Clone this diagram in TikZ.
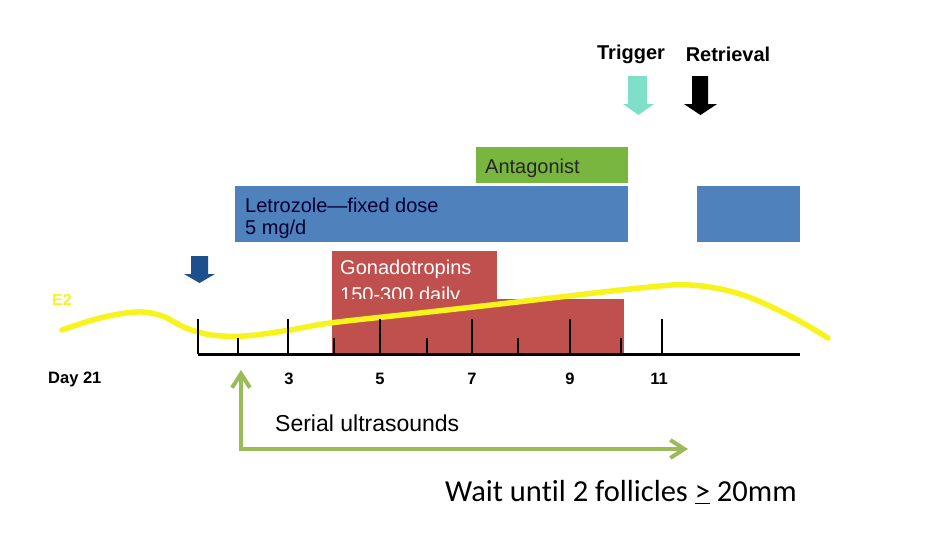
\documentclass[tikz,border=0pt]{standalone}
\usepackage{fontspec}
\setmainfont{Liberation Sans}
\newfontfamily\calibri[Ligatures=NoCommon]{Carlito}
\usetikzlibrary{arrows.meta,positioning}
\definecolor{letblue}{HTML}{4F81BD}
\definecolor{antgreen}{HTML}{78B63F}
\definecolor{gonred}{HTML}{C0504D}
\definecolor{trigteal}{HTML}{7FDFC8}
\definecolor{startblue}{HTML}{1F4E8C}
\definecolor{eyellow}{HTML}{F7F31C}
\definecolor{usgreen}{HTML}{9BBB59}

\begin{document}
\begin{tikzpicture}[x=1pt,y=-1pt,>={Straight Barb[length=14pt,width=18pt,line width=4pt]},
    bar/.style={rectangle,inner sep=0pt,anchor=north west},
    boxtxt/.style={inner sep=0pt,align=left,font=\fontsize{20}{22}\selectfont},
    toplab/.style={inner sep=0pt,font=\fontsize{20}{22}\selectfont\bfseries},
    daylab/.style={inner sep=0pt,font=\fontsize{16.5}{18}\selectfont\bfseries}]
    \useasboundingbox (0,0) rectangle (935,542);
    % drug bars
    \node[bar,fill=antgreen,minimum width=152,minimum height=36] (antag) at (476,147) {};
    \node[boxtxt,anchor=base west,text=black!85] (antagtxt) at (485,173) {Antagonist};
    \node[bar,fill=letblue,minimum width=393,minimum height=56] (letro) at (235,186) {};
    \node[boxtxt,anchor=north west,text=black!80!blue] (letrotxt) at (245,197.5) {Letrozole---fixed dose\\5 mg/d};
    \node[bar,fill=letblue,minimum width=103,minimum height=56] (letro2) at (697,186) {};
    \node[bar,fill=gonred,minimum width=165,minimum height=48] (gonup) at (332,251) {};
    \node[boxtxt,anchor=north west,text=white,font=\fontsize{20}{27}\selectfont] (gontxt) at (340,259.5) {Gonadotropins\\150-300 daily};
    \node[bar,fill=gonred,minimum width=292,minimum height=55] (gonlow) at (332,299) {};
    % trigger / retrieval / start
    \node[toplab] (trig) at (631,54) {Trigger};
    \node[toplab] (retr) at (728,54) {Retrieval};
    \fill[trigteal] (628,76)--(647,76)--(647,104)--(654,104)--(638.5,115)--(623,104)--(628,104)--cycle;
    \fill[black] (692,76)--(708,76)--(708,104)--(717,104)--(700.5,115)--(684,104)--(692,104)--cycle;
    \fill[startblue] (191,256)--(208,256)--(208,274)--(215,274)--(199.5,283)--(184,274)--(191,274)--cycle;
    % E2 curve
    \node[inner sep=0pt,text=eyellow,font=\fontsize{16}{18}\selectfont\bfseries] (e2) at (62,300) {E2};
    \draw[eyellow,line width=5.5pt,line cap=round] plot[smooth,tension=0.6] coordinates
        {(62,330) (100,318) (137,312) (162,316) (186,328) (212,335) (245,336) (290,330) (330,323)
         (420,313) (500,304) (560,297) (640,288) (690,285) (740,294) (790,316) (828,338)};
    % timeline
    \draw[line width=3pt] (198,354)--(800,354);
    \foreach \x/\h in {198/35,238/16,288/35,334/16,380/35,427/16,472/35,518/16,570/35,621/16,662/35}
    {
        \draw[line width=2.5pt] (\x,354)--(\x,354-\h);
    }
    \node[daylab,anchor=west] (day) at (48,379) {Day 21};
    \foreach \x/\lab in {289/3,380/5,472/7,570/9,659/11}
    {
        \node[daylab] (d\lab) at (\x,379) {\lab};
    }
    % ultrasounds
    \coordinate (ustop) at (241,370);
    \coordinate (usend) at (688,449);
    \draw[usgreen,line width=4pt,<->] (ustop) |- (usend);
    \node[inner sep=0pt,anchor=west,font=\fontsize{23}{26}\selectfont] (serial) at (275,423) {Serial ultrasounds};
    \node[inner sep=0pt,anchor=west,font=\calibri\fontsize{30.5}{34}\selectfont] (wait) at (445,492)
        {Wait until 2 follicles \underline{>} 20mm};
\end{tikzpicture}
\end{document}
